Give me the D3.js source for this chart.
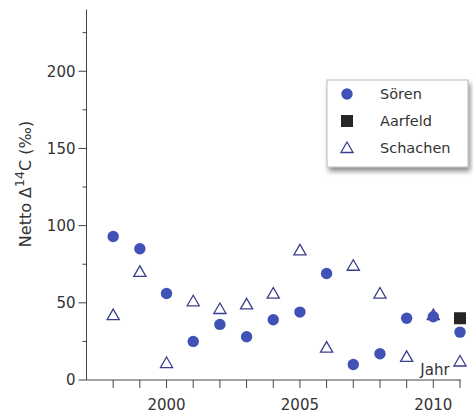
<!DOCTYPE html>
<html>
<head>
<meta charset="utf-8">
<script src="https://cdn.jsdelivr.net/npm/d3@7"></script>
<style>
  body { margin: 0; background: #fff; }
  text { font-family: "DejaVu Sans", Verdana, sans-serif; fill: #333; }
</style>
</head>
<body>
<svg id="chart" width="473" height="414"></svg>
<script>
// data
var years = [1998, 1999, 2000, 2001, 2002, 2003, 2004, 2005, 2006, 2007, 2008, 2009, 2010, 2011];
var soeren = [93, 85, 56, 25, 36, 28, 39, 44, 69, 10, 17, 40, 41, 31];
var schachen = [42, 70, 11, 51, 46, 49, 56, 84, 21, 74, 56, 15, 42, 12];
var aarfeld = [{year: 2011, value: 40}];
var xLabels = [2000, 2005, 2010];
var yLabels = [0, 50, 100, 150, 200];
var legendItems = ["Sören", "Aarfeld", "Schachen"];

var svg = d3.select("#chart");
var blue = "#4152b6", navy = "#3a3f8e", dark = "#262626";

var x = d3.scaleLinear().domain([1997, 2011]).range([86.5, 460]);
var y = d3.scaleLinear().domain([0, 240]).range([380, 9.5]);

// y axis
var yAxis = svg.append("g").attr("transform", "translate(86.5,0)");
yAxis.append("line").attr("y1", y(0)).attr("y2", y(240))
    .attr("stroke", "#444").attr("stroke-width", 1);
yAxis.selectAll("line.tk").data(d3.range(0, 241, 25)).enter().append("line")
    .attr("class", "tk")
    .attr("x1", function(d){ return d % 50 == 0 ? -8 : -4; })
    .attr("x2", 0)
    .attr("y1", function(d){ return y(d); })
    .attr("y2", function(d){ return y(d); })
    .attr("stroke", "#444");
yAxis.selectAll("text").data(yLabels).enter().append("text")
    .attr("x", -11).attr("y", function(d){ return y(d); })
    .attr("dy", "0.36em").attr("text-anchor", "end")
    .attr("font-size", 15).text(function(d){ return d; });

// x axis
var xAxis = svg.append("g").attr("transform", "translate(0," + y(0) + ")");
xAxis.append("line").attr("x1", x(1997)).attr("x2", x(2011) + 1)
    .attr("stroke", "#444");
xAxis.selectAll("line.tk").data(years).enter().append("line")
    .attr("class", "tk")
    .attr("x1", function(d){ return x(d); }).attr("x2", function(d){ return x(d); })
    .attr("y1", 0).attr("y2", 8).attr("stroke", "#444");
xAxis.selectAll("text").data(xLabels).enter().append("text")
    .attr("x", function(d){ return x(d); }).attr("y", 30)
    .attr("text-anchor", "middle").attr("font-size", 15)
    .text(function(d){ return d; });

svg.append("text").attr("x", 435).attr("y", 375).attr("text-anchor", "middle")
    .attr("font-size", 15).text("Jahr");

// y title
var yt = svg.append("text").attr("transform", "translate(31,184) rotate(-90)")
    .attr("text-anchor", "middle").attr("font-size", 16);
yt.append("tspan").text("Netto Δ");
yt.append("tspan").attr("dy", -7).attr("font-size", 12.5).text("14");
yt.append("tspan").attr("dy", 7).text("C (‰)");

// markers
var tri = d3.symbol().type(d3.symbolTriangle).size(64);
var plot = svg.append("g");
plot.selectAll("path.sch").data(years).enter().append("path")
    .attr("class", "sch")
    .attr("d", tri)
    .attr("transform", function(d, i){ return "translate(" + x(d) + "," + (y(schachen[i]) + 1) + ")"; })
    .attr("fill", "none").attr("stroke", navy).attr("stroke-width", 1.3);
plot.selectAll("circle").data(years).enter().append("circle")
    .attr("cx", function(d){ return x(d); })
    .attr("cy", function(d, i){ return y(soeren[i]); })
    .attr("r", 5.7).attr("fill", blue);
plot.selectAll("rect").data(aarfeld).enter().append("rect")
    .attr("x", function(d){ return x(d.year) - 6; })
    .attr("y", function(d){ return y(d.value) - 6; })
    .attr("width", 12).attr("height", 12).attr("fill", dark);

// legend
var defs = svg.append("defs");
defs.append("filter").attr("id", "shadow").attr("x", "-10%").attr("y", "-10%")
    .attr("width", "125%").attr("height", "135%")
  .append("feDropShadow").attr("dx", 2).attr("dy", 4).attr("stdDeviation", 2.5)
    .attr("flood-color", "#000").attr("flood-opacity", 0.45);

var lg = svg.append("g").attr("transform", "translate(327,80)");
lg.append("rect").attr("width", 141).attr("height", 87)
    .attr("fill", "#fff").attr("stroke", "#aaa").attr("stroke-width", 0.8)
    .attr("filter", "url(#shadow)");
var ly = d3.scalePoint().domain(legendItems).range([14, 68]);
lg.selectAll("text").data(legendItems).enter().append("text")
    .attr("x", 53).attr("y", function(d){ return ly(d); }).attr("dy", "0.36em")
    .attr("font-size", 14.5).text(function(d){ return d; });
lg.append("circle").attr("cx", 20).attr("cy", ly("Sören")).attr("r", 5.7).attr("fill", blue);
lg.append("rect").attr("x", 14).attr("y", ly("Aarfeld") - 6).attr("width", 12).attr("height", 12).attr("fill", dark);
lg.append("path").attr("d", tri)
    .attr("transform", "translate(20," + (ly("Schachen") + 1) + ")")
    .attr("fill", "none").attr("stroke", navy).attr("stroke-width", 1.3);
</script>
</body>
</html>
